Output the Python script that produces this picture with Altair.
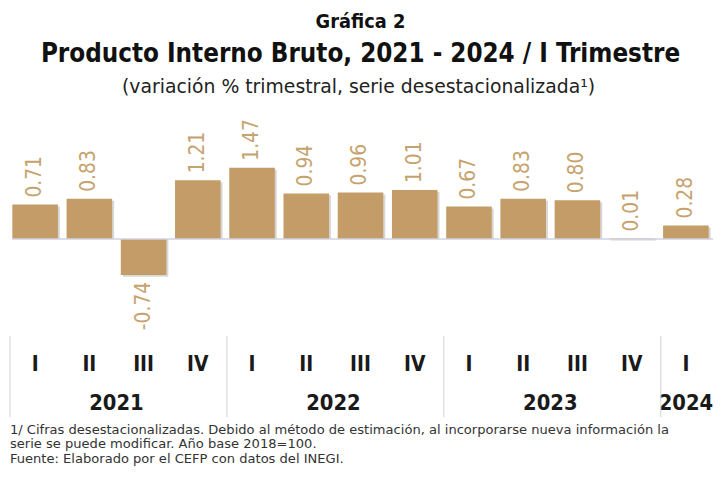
import altair as alt
import pandas as pd

# ---- data ----
years = ["2021", "2021", "2021", "2021",
         "2022", "2022", "2022", "2022",
         "2023", "2023", "2023", "2023",
         "2024"]
quarters = ["I", "II", "III", "IV",
            "I", "II", "III", "IV",
            "I", "II", "III", "IV",
            "I"]
values = [0.71, 0.83, -0.74, 1.21,
          1.47, 0.94, 0.96, 1.01,
          0.67, 0.83, 0.80, 0.01,
          0.28]

title_line1 = "Gráfica 2"
title_line2 = "Producto Interno Bruto, 2021 - 2024 / I Trimestre"
subtitle = "(variación % trimestral, serie desestacionalizada¹)"
footnotes = [
    "1/ Cifras desestacionalizadas. Debido al método de estimación, al incorporarse nueva información la",
    "serie se puede modificar. Año base 2018=100.",
    "Fuente: Elaborado por el CEFP con datos del INEGI.",
]

# ---- tables ----
df = pd.DataFrame({"year": years, "quarter": quarters, "value": values})
df["idx"] = range(len(df))
df["key"] = df["year"] + "-" + df["quarter"]
order = list(df["key"])

yr = df.groupby("year")["idx"].agg(["min", "max"]).reset_index()
yr["center"] = (yr["min"] + yr["max"] + 1) / 2.0
yr["start"] = yr["min"]

W, H = 712, 461
N = len(df)
BAR = "#C39C67"
LAB = "#C6A36E"
NARROW = "Liberation Sans Narrow, DejaVu Sans Condensed, sans-serif"
GEO = "DejaVu Sans, sans-serif"


def xs():
    return alt.Scale(domain=order, paddingInner=0.16, paddingOuter=0.08)


def ys():
    return alt.Scale(domain=[-4.694, 4.714], nice=False, zero=False)


xband = alt.X("key:N", sort=order, scale=xs(), axis=None)
xmid = alt.X("key:N", sort=order, scale=xs(), axis=None, bandPosition=0.5)
yenc = alt.Y("value:Q", scale=ys(), axis=None)

base = alt.Chart(df).transform_calculate(
    lab="replace(format(datum.value, '.2f'), '\u2212', '-')")

shadow = base.mark_bar(color="#9a9a9a", opacity=0.4, xOffset=2, yOffset=2).encode(
    x=xband, y=yenc, y2=alt.datum(0))
bars = base.mark_bar(color=BAR).encode(x=xband, y=yenc, y2=alt.datum(0))

zero = alt.Chart(pd.DataFrame({"z": [0]})).mark_rule(color="#d2d2e0", strokeWidth=1.5).encode(
    y=alt.Y("z:Q", scale=ys(), axis=None),
    x=alt.value(4), x2=alt.value(W))

lab_pos = base.transform_filter("datum.value >= 0").mark_text(
    angle=270, align="left", baseline="middle", dx=7, fontSize=21,
    font=NARROW, color=LAB).encode(x=xmid, y=yenc, text="lab:N")
lab_neg = base.transform_filter("datum.value < 0").mark_text(
    angle=270, align="right", baseline="middle", dx=-7, fontSize=21,
    font=NARROW, color=LAB).encode(x=xmid, y=yenc, text="lab:N")

qlab = base.mark_text(fontSize=21, fontWeight="bold", font=NARROW, color="#1a1a1a",
                      baseline="middle").encode(
    x=xmid, y=alt.value(358), text="quarter:N")

xq = alt.Scale(domain=[0, N], range=[0, W], nice=False, zero=False)
ylab = alt.Chart(yr).mark_text(fontSize=22, fontWeight="bold", font=NARROW, color="#1a1a1a",
                               baseline="middle").encode(
    x=alt.X("center:Q", scale=xq, axis=None), y=alt.value(397), text="year:N")
seps = alt.Chart(yr).mark_rule(color="#d9d9d9", strokeWidth=1.2, xOffset=2).encode(
    x=alt.X("start:Q", scale=xq, axis=None), y=alt.value(329), y2=alt.value(411))

tdf = pd.DataFrame({"t": [title_line1, title_line2, subtitle],
                    "row": [0, 1, 2]})
t1 = alt.Chart(tdf).transform_filter("datum.row == 0").mark_text(
    fontSize=20, fontWeight="bold", font=NARROW, color="#111111", baseline="middle").encode(
    text="t:N", x=alt.value(W / 2), y=alt.value(12))
t2 = alt.Chart(tdf).transform_filter("datum.row == 1").mark_text(
    fontSize=26, fontWeight="bold", font=NARROW, color="#111111", baseline="middle").encode(
    text="t:N", x=alt.value(W / 2), y=alt.value(44))
t3 = alt.Chart(tdf).transform_filter("datum.row == 2").mark_text(
    fontSize=19, font=GEO, color="#222222", baseline="middle").encode(
    text="t:N", x=alt.value(W / 2 - 2), y=alt.value(78))

fdf = pd.DataFrame({"t": footnotes, "row": [0, 1, 2]})
foot = alt.Chart(fdf).mark_text(fontSize=13.2, font=GEO, color="#333333",
                                align="left", baseline="middle").encode(
    text="t:N", x=alt.value(2),
    y=alt.Y("row:Q", scale=alt.Scale(domain=[0, 2], range=[424, 453], nice=False, zero=False),
            axis=None))

chart = alt.layer(shadow, bars, zero, lab_pos, lab_neg, qlab, ylab, seps,
                  t1, t2, t3, foot).resolve_scale(x="independent", y="independent").properties(
    width=W, height=H, autosize=alt.AutoSizeParams(type="none"), padding=0,
    background="white"
).configure_view(stroke=None)

chart.save("out.html", embed_options={"renderer": "svg", "actions": False})
